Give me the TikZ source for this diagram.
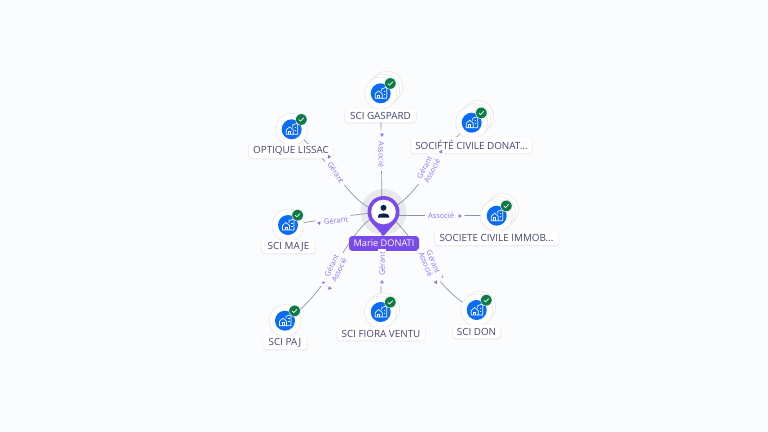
\documentclass[tikz,border=0pt]{standalone}
\usepackage{fontspec}
\setmainfont{Open Sans}
\usetikzlibrary{calc}
\pgfdeclarelayer{under}
\pgfsetlayers{under,main}
\definecolor{bgc}{HTML}{FBFCFE}
\definecolor{link}{HTML}{8F92A3}
\definecolor{lab}{HTML}{8F73EE}
\definecolor{pur}{HTML}{7B4BEA}
\definecolor{halo}{HTML}{E8E9ED}
\definecolor{blu}{HTML}{0A6CF5}
\definecolor{grn}{HTML}{0E7A45}
\definecolor{txt}{HTML}{44466E}
\definecolor{navy}{HTML}{0F1F4D}
\tikzset{
 x=0.75pt,y=-0.75pt,
 conn/.style={draw=link,line width=0.5pt},
 rel/.style={font=\fontsize{5.6}{6}\selectfont,text=lab,inner sep=0.6pt},
 disc/.style={circle,fill=white,draw=black!10,line width=0.4pt,minimum size=24pt,inner sep=0pt},
 blue/.style={circle,fill=blu,minimum size=15pt,inner sep=0pt},
 badge/.style={circle,fill=grn,draw=white,line width=0.3pt,minimum size=8.6pt,inner sep=0pt},
 cname/.style={rounded corners=2pt,fill=white,text=txt,font=\fontsize{7.4}{8}\selectfont,inner sep=0pt},
}
% \co{name}{x}{y}{extra discs}{label}{label cx}{label cy}{label w}{label h}
\newcommand{\co}[9]{%
 \ifnum#4>0 \foreach \k in {#4,...,1}{%
   \node[disc] at ($(#2,#3)+(\k*3,-\k*3)$) {};}\fi
 \node[disc] (#1) at (#2,#3) {};
 \node[blue] (#1b) at (#2,#3) {};
 \begin{scope}[shift={(#2,#3)},draw=white,line width=0.5pt,line join=round]
  \draw (-5.5,5) -- (-5.5,0.5) -- (-2,-2.5) -- (1.5,0.5) -- (1.5,5) -- cycle;
  \draw (-3,5) -- (-3,2) -- (-1,2) -- (-1,5);
  \draw (1,-2) -- (1,-4.5) -- (6,-6) -- (6,5) -- (1.5,5);
  \draw (3,-2) -- (4.5,-2) (3,1) -- (4.5,1);
 \end{scope}
 \node[badge] (#1c) at ($(#2,#3)+(9.6,-9.8)$) {};
 \draw[white,line width=0.5pt,line cap=round,line join=round]
   ($(#1c)+(-2.4,0.2)$) -- ($(#1c)+(-0.8,1.7)$) -- ($(#1c)+(2.4,-1.6)$);
 \fill[black,opacity=0.05,rounded corners=2.5pt] ($(#6,#7)+(-#8/2-0.8,-#9/2-0.2)$) rectangle ($(#6,#7)+(#8/2+0.8,#9/2+1.6)$);
 \node[cname,minimum width=#8*0.75pt,minimum height=#9*0.75pt] (#1l) at (#6,#7) {#5};
}
% \tipm{x}{y}{angle}: arrow mark with a small gap in the line under it
\newcommand{\tipm}[3]{%
 \fill[bgc] (#1,#2) circle (4.6);
 \fill[lab,shift={(#1,#2)},rotate=#3] (2,0) -- (-1.3,-1.9) -- (-1.3,1.9) -- cycle;
}
% \gapm{x}{y}{angle}{half length}{half width}: hides the line under a label
\newcommand{\gapm}[5]{%
 \fill[bgc,shift={(#1,#2)},rotate=#3] (-#4,-#5) rectangle (#4,#5);
}
\begin{document}
\begin{tikzpicture}
\begin{pgfonlayer}{under}
\fill[bgc] (0,0) rectangle (768,432);
\node[circle,fill=halo,minimum size=34.5pt,inner sep=0pt] (hub) at (383.5,212) {};
\end{pgfonlayer}
\useasboundingbox (0,0) rectangle (768,432);
% hub pin
\fill[pur] (hub.center) circle (16);
\fill[pur] (383.5,236) -- (371.5,222.6) -- (395.5,222.6) -- cycle;
\fill[white] (hub.center) circle (12.3);
\fill[navy] (383.5,207.8) circle (3);
\fill[navy] (378,217.5) -- (378,215.8) .. controls (378,212.6) and (389,212.6) .. (389,215.8) -- (389,217.5) -- cycle;
\node[fill=pur,rounded corners=2.5pt,text=white,font=\fontsize{6.9}{8}\selectfont,inner sep=0pt,
  minimum width=52.5pt,minimum height=11.2pt] (hubl) at (384,243.5) {Marie DONATI};
% companies
\co{gasp}{380.7}{93.3}{2}{SCI GASPARD}{380.5}{115.5}{71}{13}
\co{soc}{471.7}{122.7}{2}{SOCIÉTÉ CIVILE DONAT...}{471.5}{145}{121}{16}
\co{opt}{291.7}{129.3}{0}{OPTIQUE LISSAC}{291}{151}{84}{14}
\co{maj}{288}{225}{0}{SCI MAJE}{288.5}{246.5}{53}{13}
\co{paj}{285}{320.7}{0}{SCI PAJ}{285}{342.5}{44}{13}
\co{fio}{380.7}{312}{1}{SCI FIORA VENTU}{381}{333.5}{88}{13}
\co{imm}{496.7}{215.7}{2}{SOCIETE CIVILE IMMOB...}{496.5}{238}{123}{14}
\co{don}{476.7}{310}{1}{SCI DON}{476.5}{331.5}{47}{13}
% connectors
\begin{pgfonlayer}{under}
\draw[conn] ($(hub.center)+(-1.5,0)$) -- (gasp.center);
\draw[conn] ($(hub.center)+(-1.5,0)$) -- (fio.center);
\draw[conn] ($(hub.center)+(0,3.7)$) -- (imm.center);
\draw[conn] (hub.center) .. controls (355,214) and (335,218) .. (maj.center);
\draw[conn] (hub.center) .. controls (350,208) and (342,170) .. (opt.center);
\draw[conn] (hub.center) .. controls (418,200) and (424,165) .. (soc.center);
\draw[conn] (hub.center) .. controls (345,225) and (335,290) .. (paj.center);
\draw[conn] (hub.center) .. controls (420,235) and (430,290) .. (don.center);
\end{pgfonlayer}
% relation labels
\tipm{382}{135}{-90}
\gapm{381.5}{154.5}{-90}{16}{4}
\node[rel,rotate=-90] (r1) at (381.5,154.5) {Associé};
\tipm{382}{282}{90}
\gapm{382}{264}{90}{15}{4}
\node[rel,rotate=90] (r2) at (382,264) {Gérant};
\tipm{460}{216}{0}
\gapm{441}{216}{0}{16}{4}
\node[rel] (r3) at (441,216) {Associé};
\tipm{319}{223}{172}
\gapm{336}{220.5}{7}{15}{4}
\node[rel,rotate=7] (r4) at (336,220.5) {Gérant};
\tipm{329}{157}{-122}
\gapm{336}{172.5}{-57}{15}{4}
\node[rel,rotate=-57] (r5) at (336,172.5) {Gérant};
\tipm{329.5}{288}{115}
\tipm{323.5}{282}{115}
\gapm{335}{268}{65}{17}{7}
\node[rel,rotate=65] (r6) at (331.5,265.5) {Gérant};
\node[rel,rotate=65] (r7) at (339,270) {Associé};
\tipm{436}{282}{62}
\tipm{442}{276}{62}
\gapm{430}{263}{-68}{17}{7}
\node[rel,rotate=-68] (r8) at (433.5,262) {Gérant};
\node[rel,rotate=-68] (r9) at (426,264) {Associé};
\tipm{441}{152}{-60}
\gapm{428}{169.5}{62}{17}{7}
\node[rel,rotate=62] (r10) at (424.5,167.5) {Gérant};
\node[rel,rotate=62] (r11) at (432,171) {Associé};
\end{tikzpicture}
\end{document}
